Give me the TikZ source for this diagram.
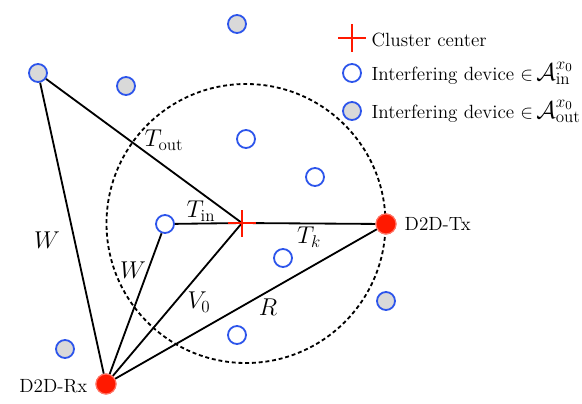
\documentclass[tikz,border=0pt]{standalone}
\usepackage{fix-cm}
\usepackage{fontspec}
\usetikzlibrary{positioning}
\definecolor{devblue}{RGB}{45,85,235}
\definecolor{devred}{RGB}{255,25,0}
\tikzset{
  in dev/.style={circle, draw=devblue, line width=1.3pt, fill=white, minimum size=0.45cm, inner sep=0pt},
  out dev/.style={in dev, fill=gray!30},
  d2d/.style={circle, draw=devred!60!white, fill=devred, line width=0.8pt, minimum size=0.5cm, inner sep=0pt},
  link/.style={line width=1.3pt},
  cross/.style={draw=devred, line width=1.3pt},
  zone/.style={line width=1.3pt, dash pattern=on 2.8pt off 2pt},
  dist/.style={font=\fontsize{17.3}{20}\selectfont, inner sep=1pt},
  keytext/.style={anchor=base west, inner sep=1pt}
}
\newcommand{\bigset}[1]{{\fontsize{17.3}{20}\selectfont$#1$}}
\begin{document}
\begin{tikzpicture}[x=0.025cm, y=-0.025cm]
            \useasboundingbox (0,0) rectangle (582,403);
            {\fontsize{13.6}{16}\selectfont

            % Cluster region
            \draw [zone] (246,223.5) ellipse (139.5 and 139.5);%
            \coordinate (cc) at (242,223);

            % Devices
            \node [d2d] (tx) at (386,224) {};%
            \node [d2d] (rx) at (106,384) {};%
            \node [in dev] (i1) at (165,224) {};%
            \node [in dev] (i2) at (246,139) {};%
            \node [in dev] (i3) at (315,177) {};%
            \node [in dev] (i4) at (283,258) {};%
            \node [in dev] (i5) at (237,335) {};%
            \node [out dev] (o1) at (38,73) {};%
            \node [out dev] (o2) at (126,86) {};%
            \node [out dev] (o3) at (237,24) {};%
            \node [out dev] (o4) at (65,349) {};%
            \node [out dev] (o5) at (386,301) {};%

            % Drawing links
            \draw [link] (o1) -- (cc);%
            \draw [link] (o1) -- (rx);%
            \draw [link] (i1) -- (cc);%
            \draw [link] (i1) -- (rx);%
            \draw [link] (cc) -- (rx);%
            \draw [link] (cc) -- (tx);%
            \draw [link] (tx) -- (rx);%

            % Marking cluster center by cross
            \draw [cross] (cc) ++(-14,0) -- ++(28,0);%
            \draw [cross] (cc) ++(0,-13) -- ++(0,27);%
            \node [d2d] at (tx) {};%
            \node [d2d] at (rx) {};%

            % Distance labels
            \node [dist] (l-tout) at (164,140) {$T_{\mathrm{out}}$};%
            \node [dist] (l-tin) at (201,211) {$T_{\mathrm{in}}$};%
            \node [dist] (l-tk) at (309,237) {$T_k$};%
            \node [dist] (l-v0) at (199,302) {$V_0$};%
            \node [dist] (l-r) at (268,307) {$R$};%
            \node [dist] (l-w1) at (47,240) {$W$};%
            \node [dist] (l-w2) at (133,270) {$W$};%
            \node [anchor=west, inner sep=1pt] (l-tx) at (403,224) {D2D-Tx};%
            \node [anchor=east, inner sep=1pt] (l-rx) at (89,386) {D2D-Rx};%

            % Legend
            \coordinate (k0) at (352,38);
            \draw [cross] (k0) ++(-14,0) -- ++(28,0);%
            \draw [cross] (k0) ++(0,-14) -- ++(0,28);%
            \node [in dev] (k1) at (352,73) {};%
            \node [out dev] (k2) at (352,111) {};%
            \node [keytext] (t0) at (370,46) {Cluster center};%
            \node [keytext] (t1) at (370,80) {Interfering device $\in$\,\bigset{\mathcal{A}_{\mathrm{in}}^{x_0}}};%
            \node [keytext] (t2) at (370,118) {Interfering device $\in$\,\bigset{\mathcal{A}_{\mathrm{out}}^{x_0}}};%
            }
\end{tikzpicture}
\end{document}
